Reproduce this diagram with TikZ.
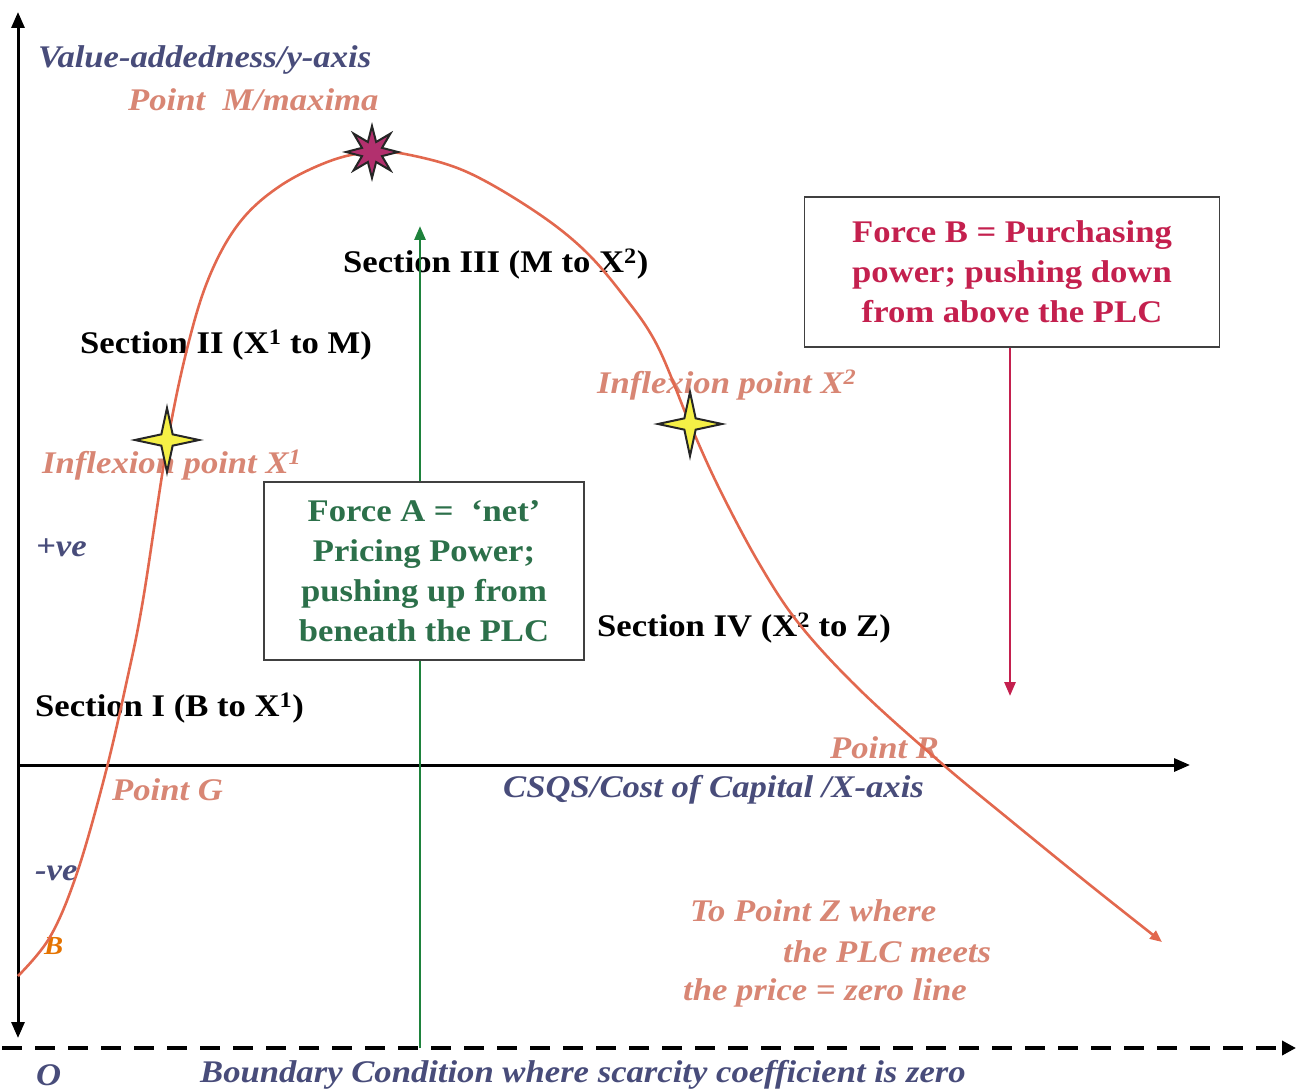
\documentclass[tikz,border=0pt]{standalone}
\usepackage{fontspec}
\setmainfont{Liberation Serif}[FakeStretch=1.1]
\usetikzlibrary{arrows.meta,shapes.geometric}
\definecolor{curvec}{RGB}{226,104,78}
\definecolor{salmon}{RGB}{216,134,116}
\definecolor{axblue}{RGB}{72,76,122}
\definecolor{agreen}{RGB}{44,112,74}
\definecolor{arrgreen}{RGB}{30,130,60}
\definecolor{bred}{RGB}{196,32,78}
\definecolor{starmag}{RGB}{178,48,110}
\definecolor{staryel}{RGB}{245,240,70}
\tikzset{
  big/.style={font=\bfseries\fontsize{31.5}{40}\selectfont},
  sec/.style={big, anchor=west, inner sep=0pt, text=black},
  sal/.style={font=\bfseries\itshape\fontsize{31.5}{41}\selectfont, anchor=west, inner sep=0pt, text=salmon},
  axl/.style={font=\bfseries\itshape\fontsize{31.5}{40}\selectfont, anchor=west, inner sep=0pt, text=axblue},
  forcebox/.style={big, draw=black!75, line width=1.3pt, fill=white, align=center, inner sep=0pt},
  axis/.style={line width=3pt, black},
  tip/.style={-{Triangle[length=16pt,width=13pt]}},
}
\begin{document}
\begin{tikzpicture}[x=1pt,y=-1pt]
\useasboundingbox (0,0) rectangle (1297,1091);
% coordinates
\coordinate (ybot) at (18,1038);
\coordinate (ytop) at (18,12);
\coordinate (xl) at (18,765);
\coordinate (xr) at (1190,765);
\coordinate (dl) at (2,1048);
\coordinate (dr) at (1296,1048);
\coordinate (gbot) at (420,1048);
\coordinate (gtop) at (420,226);
\coordinate (rend) at (1010,696);

% texts
\node[axl] (yax) at (38,60) {Value-addedness/y-axis};
\node[sal] (pm) at (128,100) {Point\ \ M/maxima};
\node[sec] (s3) at (343,264) {Section III (M to X\textsuperscript{2})};
\node[sec] (s2) at (80,345) {Section II (X\textsuperscript{1} to M)};
\node[sal] (ix2) at (597,385) {Inflexion point X\textsuperscript{2}};
\node[sal] (ix1) at (42,465) {Inflexion point X\textsuperscript{1}};
\node[axl] (pve) at (36,548) {+ve};
\node[sec] (s4) at (597,628) {Section IV (X\textsuperscript{2} to Z)};
\node[sec] (s1) at (35,708) {Section I (B to X\textsuperscript{1})};
\node[sal] (pr) at (830,748) {Point R};
\node[sal] (pg) at (112,790) {Point G};
\node[axl] (xax) at (503,790) {CSQS/Cost of Capital /X-axis};
\node[axl] (nve) at (35,873) {-ve};
\node[sal, text=orange!90!black, font=\bfseries\itshape\fontsize{26}{30}\selectfont] (pb) at (44,946) {B};
\node[sal] (z1) at (690,911) {To Point Z where};
\node[sal] (z2) at (783,952) {the PLC meets};
\node[sal] (z3) at (683,993) {the price = zero line};
\node[axl] (o) at (36,1075) {O};
\node[axl] (bc) at (200,1075) {Boundary Condition where scarcity coefficient is zero};

% axes
\draw[axis, {Triangle[length=16pt,width=13pt]}-{Triangle[length=16pt,width=13pt]}] (ybot) -- (ytop);
\draw[axis, tip] (xl) -- (xr);
\draw[line width=4pt, dash pattern=on 20pt off 13pt, -{Triangle[length=14pt,width=14pt]}] (dl) -- (dr);

% green arrow and force A
\draw[arrgreen, line width=2.8pt, -{Triangle[length=14pt,width=11pt]}] (gbot) -- (gtop);
\node[forcebox, text=agreen, minimum width=320pt, minimum height=178pt] (fa) at (424,571)
  {Force A = \ `net'\\Pricing Power;\\pushing up from\\beneath the PLC};

% force B
\node[forcebox, text=bred, minimum width=415pt, minimum height=150pt] (fb) at (1012,272)
  {Force B = Purchasing\\power; pushing down\\from above the PLC};
\draw[bred, line width=2.8pt, -{Triangle[length=14pt,width=11pt]}] (fb.south -| rend) -- (rend);

% PLC curve
\draw[curvec, line width=2.6pt, -{Triangle[length=12pt,width=10pt]}]
  plot[smooth, tension=0.6] coordinates {
   (18,976) (50,937) (77,873) (105,775) (127,680) (143,600) (167,445)
   (188,345) (210,275) (240,222) (280,186) (330,161) (372,152) (410,155)
   (467,172) (533,210) (583,249) (623,295) (657,345) (690,424) (720,490)
   (760,565) (800,625) (860,690) (940,762) (1010,820) (1090,885) (1162,942)};

% stars
\node[star, star points=8, star point ratio=2.4, minimum size=52pt, inner sep=0pt,
  draw=black!85, line width=2pt, fill=starmag] (m) at (372,152) {};
\node[star, star points=4, star point ratio=4, minimum size=64pt, inner sep=0pt,
  draw=black!85, line width=2pt, fill=staryel] (x1) at (167,440) {};
\node[star, star points=4, star point ratio=4, minimum size=64pt, inner sep=0pt,
  draw=black!85, line width=2pt, fill=staryel] (x2) at (690,424) {};
\end{tikzpicture}
\end{document}
